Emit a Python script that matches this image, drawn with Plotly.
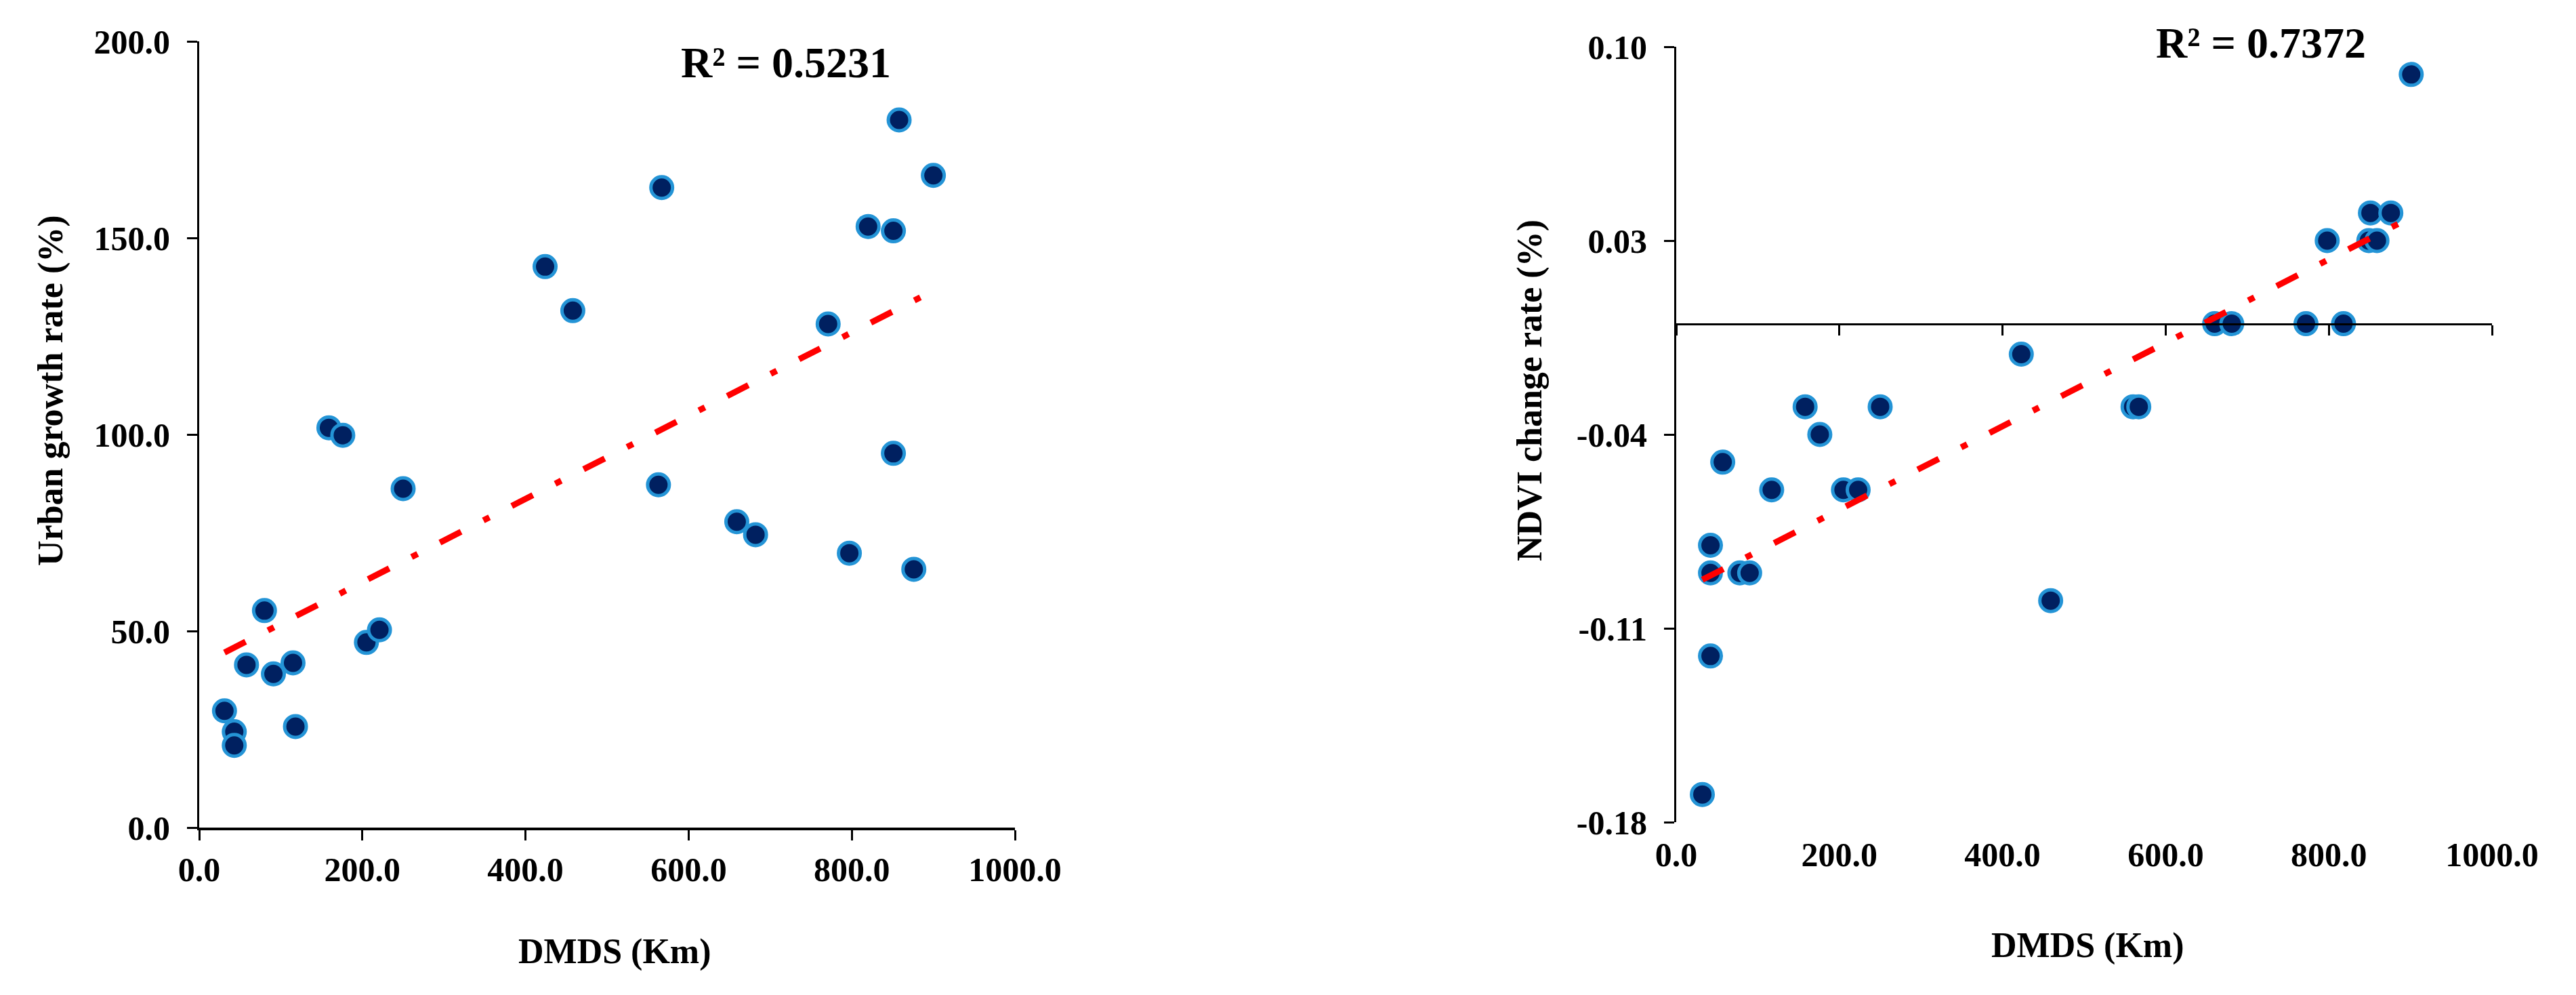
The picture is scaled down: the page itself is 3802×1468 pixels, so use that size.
import numpy as np
import plotly.graph_objects as go

# distance to the main dispersal source (km) and urban growth rate (%)
dmds_urban = [31, 43, 43, 58, 80, 91, 115, 118, 159, 176, 205, 221, 250, 424, 458,
              563, 567, 659, 682, 771, 797, 820, 851, 851, 858, 876, 900]
urban_rate = [29.7, 24.4, 20.9, 41.4, 55.2, 39.1, 41.9, 25.7, 101.7, 99.8, 47.1, 50.3, 86.2, 142.7, 131.5,
              87.2, 162.8, 77.8, 74.5, 128.1, 69.8, 152.9, 151.8, 95.2, 180.0, 65.7, 165.9]

# distance (km) and NDVI change rate (%)
dmds_ndvi = [32, 42, 42, 42, 57, 78, 90, 117, 158, 176, 205, 223, 250, 423, 459,
             560, 567, 660, 681, 772, 798, 818, 849, 851, 859, 876, 901]
ndvi_rate = [-0.170, -0.080, -0.090, -0.120, -0.050, -0.090, -0.090, -0.060, -0.030, -0.040, -0.060, -0.060,
             -0.030, -0.011, -0.100, -0.030, -0.030, 0.0, 0.0, 0.0, 0.030, 0.0, 0.030, 0.040, 0.030, 0.040, 0.090]

r2_urban = "R² = 0.5231"
r2_ndvi = "R² = 0.7372"

x_ticks = [0, 200, 400, 600, 800, 1000]
urban_ticks = [0, 50, 100, 150, 200]
ndvi_ticks = [-0.18, -0.11, -0.04, 0.03, 0.10]
ndvi_ticktext = ["-0.18", "-0.11", "-0.04", "0.03", "0.10"]

W, H = 3802, 1468
FONT = "Liberation Serif, Times New Roman, serif"
tickfont = dict(family=FONT, size=50, color="black", weight="bold")

marker = dict(size=32, color="#002060", line=dict(color="#2494D6", width=5))
trend_line = dict(color="#FF0000", width=9, dash="35px,37px,10px,37px")


def trend(x, y):
    # least squares linear fit, drawn over the data x span
    a, b = np.polyfit(x, y, 1)
    xs = np.array([min(x), max(x)], dtype=float)
    return xs, a * xs + b


fig = go.Figure()

fig.add_trace(go.Scatter(x=dmds_urban, y=urban_rate, mode="markers", marker=marker,
                         xaxis="x", yaxis="y"))
tx, ty = trend(dmds_urban, urban_rate)
fig.add_trace(go.Scatter(x=tx, y=ty, mode="lines", line=trend_line, xaxis="x", yaxis="y"))

# empty trace so the crossing axis of the NDVI panel gets drawn (placed below the data)
fig.add_trace(go.Scatter(x=[None], y=[None], mode="markers", xaxis="x3", yaxis="y2", hoverinfo="skip"))

fig.add_trace(go.Scatter(x=dmds_ndvi, y=ndvi_rate, mode="markers", marker=marker,
                         xaxis="x2", yaxis="y2"))
tx, ty = trend(dmds_ndvi, ndvi_rate)
fig.add_trace(go.Scatter(x=tx, y=ty, mode="lines", line=trend_line, xaxis="x2", yaxis="y2"))

# plot areas (paper fractions of the 3802x1468 page)
xd1 = [294 / W, 1498 / W]
yd1 = [1 - 1221 / H, 1 - 61 / H]
xd2 = [2474 / W, 3678 / W]
yd2 = [1 - 1213 / H, 1 - 69 / H]
# the x axis of the NDVI panel crosses at 0
zero_pos = yd2[0] + (0 - ndvi_ticks[0]) / (ndvi_ticks[-1] - ndvi_ticks[0]) * (yd2[1] - yd2[0])

common = dict(showgrid=False, zeroline=False, linecolor="black", tickcolor="black",
              ticklen=15, tickwidth=3, tickfont=tickfont, automargin=False)

fig.update_layout(
    width=W, height=H,
    margin=dict(l=0, r=0, t=0, b=0, autoexpand=False),
    paper_bgcolor="white", plot_bgcolor="white",
    showlegend=False,
    xaxis=dict(domain=xd1, anchor="y", range=[0, 1000], tickvals=x_ticks, tickformat=".1f",
               showline=True, linewidth=4, ticks="outside", **common),
    yaxis=dict(domain=yd1, anchor="x", range=[0, 200], tickvals=urban_ticks, tickformat=".1f",
               showline=True, linewidth=3, ticks="outside", ticklabelstandoff=15, **common),
    xaxis2=dict(domain=xd2, anchor="y2", range=[0, 1000], tickvals=x_ticks, tickformat=".1f",
                showline=False, ticks="", ticklabelstandoff=14, **common),
    xaxis3=dict(domain=xd2, overlaying="x2", anchor="free", position=zero_pos, range=[0, 1000],
                tickvals=x_ticks, showline=True, linewidth=3, ticks="outside", showticklabels=False,
                **common),
    yaxis2=dict(domain=yd2, anchor="x2", range=[ndvi_ticks[0], ndvi_ticks[-1]], tickvals=ndvi_ticks,
                ticktext=ndvi_ticktext, showline=True, linewidth=3, ticks="outside",
                ticklabelstandoff=15, **common),
)

title_font = dict(family=FONT, size=52, color="black")
ann = [
    dict(text="<b>" + r2_urban + "</b>", x=1160 / W, y=1 - 92 / H, font=dict(family=FONT, size=64, color="black")),
    dict(text="<b>" + r2_ndvi + "</b>", x=3337 / W, y=1 - 63 / H, font=dict(family=FONT, size=64, color="black")),
    dict(text="<b>Urban growth rate (%)</b>", x=75 / W, y=1 - 576 / H, textangle=-90, font=title_font),
    dict(text="<b>NDVI change rate (%)</b>", x=2258 / W, y=1 - 576 / H, textangle=-90, font=title_font),
    dict(text="<b>DMDS (Km)</b>", x=907 / W, y=1 - 1404 / H, font=title_font),
    dict(text="<b>DMDS (Km)</b>", x=3081 / W, y=1 - 1395 / H, font=title_font),
]
for a in ann:
    fig.add_annotation(xref="paper", yref="paper", showarrow=False,
                       xanchor="center", yanchor="middle", **a)

# the page body has a default 8px margin; drop it so the figure fills the window exactly
fig.write_html("out.html", config={"displayModeBar": False},
               post_script="document.body.style.margin='0';")
